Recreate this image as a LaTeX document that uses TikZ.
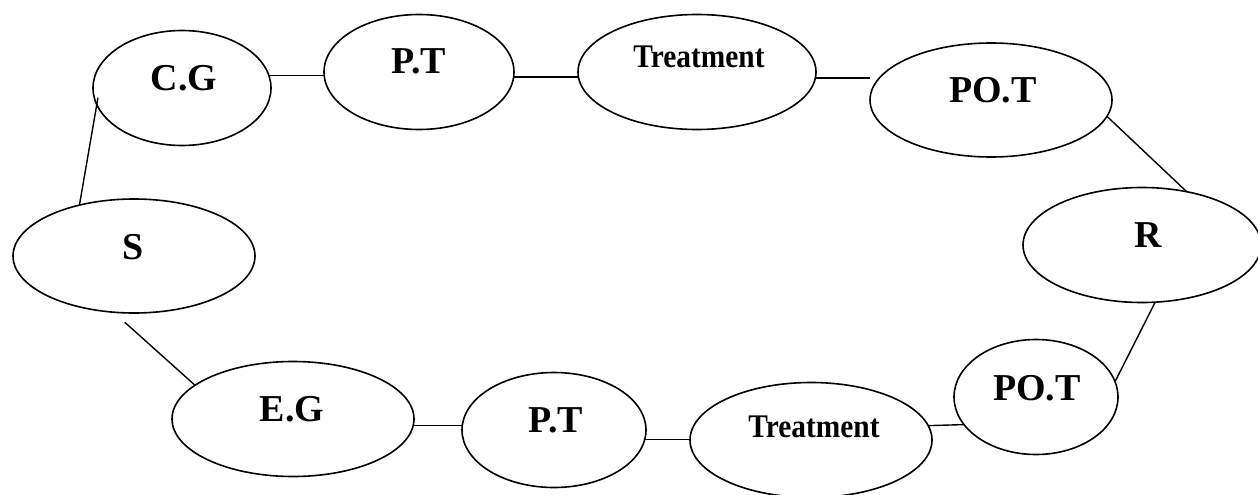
\documentclass[tikz,border=0pt]{standalone}
\usepackage{fontspec}
\setmainfont{Liberation Serif}
\usepackage{graphicx}
\usetikzlibrary{shapes.geometric}
\tikzset{
 ell/.style={draw, ellipse, line width=1.6pt, inner sep=0pt, outer sep=0pt},
 lbl/.style={anchor=base, inner sep=0pt, font=\fontsize{38}{40}\selectfont\bfseries},
 lbls/.style={anchor=base, inner sep=0pt, font=\fontsize{33}{35}\selectfont\bfseries},
 conn/.style={line width=1.4pt}
}
\begin{document}
\begin{tikzpicture}[x=1pt,y=-1pt]
\useasboundingbox (0,0) rectangle (1258,495);
% ellipses
\node[ell, minimum width=178pt, minimum height=115pt] (cg) at (182,88) {};
\node[ell, minimum width=190pt, minimum height=115pt] (pt1) at (419,72) {};
\node[ell, minimum width=238pt, minimum height=115pt] (tr1) at (697,72) {};
\node[ell, minimum width=242pt, minimum height=114pt] (po1) at (991,100) {};
\node[ell, minimum width=238pt, minimum height=115pt] (r) at (1142,245) {};
\node[ell, minimum width=242pt, minimum height=114pt] (s) at (134,256) {};
\node[ell, minimum width=242pt, minimum height=115pt] (eg) at (293,419) {};
\node[ell, minimum width=184pt, minimum height=115pt] (pt2) at (554,430) {};
\node[ell, minimum width=242pt, minimum height=115pt] (tr2) at (811,440) {};
\node[ell, minimum width=164pt, minimum height=115pt] (po2) at (1036,397) {};
% labels
\node[lbl] (cgt) at (184,91) {C.G};
\node[lbl] (pt1t) at (419,74) {P.T};
\node[lbls] (tr1t) at (699,67) {\scalebox{0.89}[1]{Treatment}};
\node[lbl] (po1t) at (993,102) {PO.T};
\node[lbl] (rt) at (1148,247) {R};
\node[lbl] (st) at (133,259) {S};
\node[lbl] (egt) at (292,421) {E.G};
\node[lbl] (pt2t) at (556,432) {P.T};
\node[lbls] (tr2t) at (814,437) {\scalebox{0.89}[1]{Treatment}};
\node[lbl] (po2t) at (1037,400) {PO.T};
% connectors
\draw[conn, shorten >=-7pt] (s.137) -- (cg.191);
\draw[conn] (cg.8) -- (cg.8 -| pt1.west);
\draw[conn] (pt1.-3) -- (pt1.-3 -| tr1.west);
\draw[conn] (tr1.-3) -- (tr1.-3 -| po1.west);
\draw[conn] (po1.-8) -- (r.50);
\draw[conn] (r.-77) -- (po2.11);
\draw[conn] (tr2.7) -- (po2.201);
\draw[conn] (pt2.-6) -- (pt2.-6 -| tr2.west);
\draw[conn] (eg.-3) -- (eg.-3 -| pt2.west);
\draw[conn, shorten <=15pt] (s.-110) -- (eg.161);
\end{tikzpicture}
\end{document}
